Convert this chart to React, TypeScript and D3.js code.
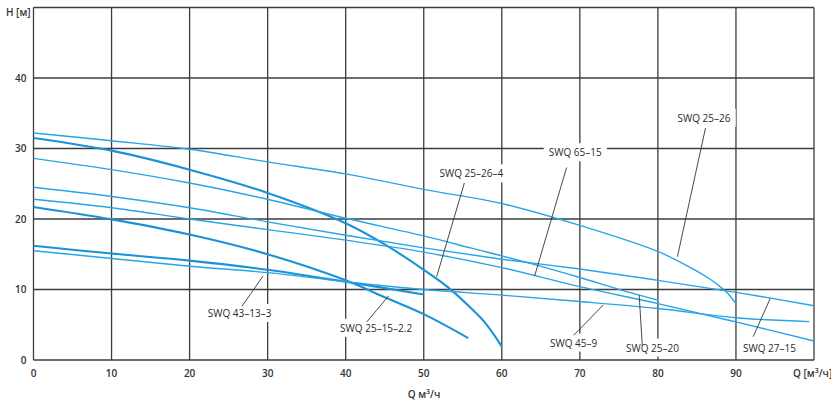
import { useEffect, useRef } from 'react';
import * as d3 from 'd3';

type Pt = [number, number];

// Q, m3/h  vs  H, m
const xTicks = [0, 10, 20, 30, 40, 50, 60, 70, 80, 90];
const yTicks = [0, 10, 20, 30, 40];

const swq25_26: Pt[] = [[0, 32.2], [10, 31.1], [20, 29.9], [30, 28.1], [40, 26.4], [50, 24.2], [60, 22.2], [70, 19.1], [80, 15.4], [84, 13.2], [86.5, 11.6], [88, 10.4], [89, 9.4], [90, 8.0]];
const swq25_26_4: Pt[] = [[0, 31.5], [10, 29.7], [20, 27.0], [30, 23.7], [40, 19.4], [45, 16.4], [50, 12.8], [53, 10.4], [56, 7.4], [58, 5.1], [60, 1.9]];
const swq25_20: Pt[] = [[0, 28.6], [10, 27.0], [20, 25.1], [30, 22.8], [40, 20.1], [50, 17.6], [56, 15.9], [64, 13.6], [70, 11.7], [76, 9.7], [80, 8.5]];
const swq27_15: Pt[] = [[0, 24.5], [10, 23.2], [20, 21.6], [30, 19.6], [40, 17.7], [50, 15.9], [60, 14.3], [70, 12.9], [80, 11.3], [90, 9.6], [100, 7.7]];
const swq65_15: Pt[] = [[0, 22.8], [10, 21.6], [20, 20.0], [30, 18.5], [40, 17.0], [50, 15.3], [60, 13.1], [70, 10.4], [80, 8.0], [90, 5.4], [100, 2.7]];
const swq25_15_2_2: Pt[] = [[0, 21.7], [10, 19.95], [20, 17.8], [30, 15.0], [40, 11.3], [45, 8.9], [50, 6.5], [55.7, 3.1]];
const swq43_13_3: Pt[] = [[0, 16.2], [10, 15.1], [20, 14.1], [30, 12.8], [40, 11.1], [50, 9.3]];
const swq45_9: Pt[] = [[0, 15.5], [10, 14.4], [20, 13.3], [30, 12.4], [40, 11.1], [50, 10.0], [60, 9.2], [70, 8.3], [80, 7.3], [90, 6.0], [99.4, 5.45]];

const curves = [
  { name: 'SWQ 25–26', points: swq25_26, bold: false },
  { name: 'SWQ 25–26–4', points: swq25_26_4, bold: true },
  { name: 'SWQ 25–20', points: swq25_20, bold: false },
  { name: 'SWQ 27–15', points: swq27_15, bold: false },
  { name: 'SWQ 65–15', points: swq65_15, bold: false },
  { name: 'SWQ 25–15–2.2', points: swq25_15_2_2, bold: true },
  { name: 'SWQ 43–13–3', points: swq43_13_3, bold: true },
  { name: 'SWQ 45–9', points: swq45_9, bold: false },
];

// callouts in data units: text position, leader start, leader end on the curve
const callouts: { text: string; at: Pt; from: Pt; to: Pt }[] = [
  { text: 'SWQ 25–26', at: [85.9, 33.8], from: [86.1, 32.9], to: [82.5, 14.65] },
  { text: 'SWQ 65–15', at: [69.4, 28.9], from: [68.3, 27.3], to: [64.2, 11.9] },
  { text: 'SWQ 25–26–4', at: [56.1, 25.9], from: [55.2, 25.1], to: [51.65, 11.8] },
  { text: 'SWQ 43–13–3', at: [26.4, 6.1], from: [26.7, 7.6], to: [29.4, 11.9] },
  { text: 'SWQ 25–15–2.2', at: [43.9, 4.0], from: [42.7, 5.4], to: [45.5, 9.1] },
  { text: 'SWQ 45–9', at: [69.2, 1.9], from: [69.2, 3.5], to: [73.0, 7.8] },
  { text: 'SWQ 25–20', at: [79.3, 1.2], from: [78.0, 2.1], to: [77.6, 9.2] },
  { text: 'SWQ 27–15', at: [94.3, 1.2], from: [92.2, 3.3], to: [94.4, 8.75] },
];

export default function App() {
  const svgRef = useRef<SVGSVGElement>(null);

  useEffect(() => {
    if (!svgRef.current) return;
    const width = 831;
    const height = 406;
    const font = "'Open Sans', 'DejaVu Sans', sans-serif";
    const ink = '#333';

    const svg = d3.select(svgRef.current);
    svg.selectAll('*').remove();
    svg.attr('width', width).attr('height', height);

    const x = d3.scaleLinear().domain([0, 100]).range([33.5, 814]);
    const y = d3.scaleLinear().domain([0, 50]).range([360, 7.5]);

    svg.append('rect').attr('width', width).attr('height', height).attr('fill', '#fff');

    // grid
    const grid = svg.append('g').attr('stroke', '#3c3c3c').attr('stroke-width', 1.3);
    d3.range(0, 101, 10).forEach((v) => {
      grid.append('line')
        .attr('x1', x(v)).attr('x2', x(v))
        .attr('y1', y(0)).attr('y2', y(50));
    });
    d3.range(0, 51, 10).forEach((v) => {
      grid.append('line')
        .attr('x1', x(0)).attr('x2', x(100))
        .attr('y1', y(v)).attr('y2', y(v));
    });

    // tick labels
    svg.append('g')
      .selectAll('text')
      .data(yTicks)
      .enter()
      .append('text')
      .attr('x', x(0) - 7)
      .attr('y', (d) => y(d) + 3.5)
      .attr('text-anchor', 'end')
      .attr('font-family', font)
      .attr('font-size', 10)
      .attr('font-weight', 600)
      .attr('fill', ink)
      .text((d) => d);

    svg.append('g')
      .selectAll('text')
      .data(xTicks)
      .enter()
      .append('text')
      .attr('x', (d) => x(d))
      .attr('y', y(0) + 17)
      .attr('text-anchor', 'middle')
      .attr('font-family', font)
      .attr('font-size', 10)
      .attr('font-weight', 600)
      .attr('fill', ink)
      .text((d) => d);

    // axis titles, with a superscript part
    const title = (tx: number, ty: number, anchor: string, parts: [string, boolean][]) => {
      const t = svg.append('text')
        .attr('x', tx).attr('y', ty)
        .attr('text-anchor', anchor)
        .attr('font-family', font)
        .attr('font-size', 10)
        .attr('font-weight', 600)
        .attr('fill', ink);
      let raised = false;
      parts.forEach(([s, sup]) => {
        const dy = sup ? -4 : raised ? 4 : 0;
        t.append('tspan')
          .attr('font-size', sup ? 7 : 10)
          .attr('dy', dy)
          .text(s);
        raised = sup;
      });
    };
    title(6, 16, 'start', [['H [м]', false]]);
    title(793, y(0) + 17, 'start', [['Q [м', false], ['3', true], ['/ч]', false]]);
    title(424, 398, 'middle', [['Q м', false], ['3', true], ['/ч', false]]);

    // callout texts with white knockout
    const labelLayer = svg.append('g');
    callouts.forEach((c) => {
      const g = labelLayer.append('g');
      const bg = g.append('rect').attr('fill', '#fff');
      const t = g.append('text')
        .attr('x', x(c.at[0]))
        .attr('y', y(c.at[1]))
        .attr('text-anchor', 'middle')
        .attr('font-family', font)
        .attr('font-size', 10)
        .attr('fill', '#2a2a2a')
        .text(c.text);
      const b = (t.node() as SVGTextElement).getBBox();
      bg.attr('x', b.x - 5).attr('y', b.y - 2).attr('width', b.width + 10).attr('height', b.height + 4);
    });

    // curves
    const line = d3.line<Pt>()
      .x((d) => x(d[0]))
      .y((d) => y(d[1]))
      .curve(d3.curveCatmullRom.alpha(0.5));

    svg.append('g')
      .selectAll('path')
      .data(curves)
      .enter()
      .append('path')
      .attr('d', (d) => line(d.points))
      .attr('fill', 'none')
      .attr('stroke', (d) => (d.bold ? '#1b92d8' : '#27a5e6'))
      .attr('stroke-width', (d) => (d.bold ? 2.1 : 1.4));

    // leader lines
    svg.append('g')
      .selectAll('line')
      .data(callouts)
      .enter()
      .append('line')
      .attr('x1', (d) => x(d.from[0]))
      .attr('y1', (d) => y(d.from[1]))
      .attr('x2', (d) => x(d.to[0]))
      .attr('y2', (d) => y(d.to[1]))
      .attr('stroke', '#333')
      .attr('stroke-width', 0.9);
  }, []);

  return (
    <svg
      ref={svgRef}
      style={{ position: 'absolute', left: 0, top: 0, display: 'block' }}
    />
  );
}
